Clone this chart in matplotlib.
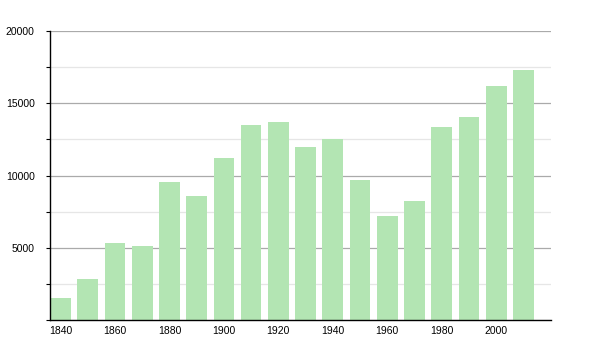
import matplotlib
matplotlib.use("Agg")
import matplotlib.pyplot as plt
from matplotlib.ticker import MultipleLocator

years = [1840, 1850, 1860, 1870, 1880, 1890, 1900, 1910, 1920, 1930,
         1940, 1950, 1960, 1970, 1980, 1990, 2000, 2010]
population = [1500, 2840, 5330, 5120, 9550, 8580, 11210, 13490, 13700, 11970,
              12520, 9690, 7200, 8230, 13350, 14050, 16190, 17300]
xtick_labels = [1840, 1860, 1880, 1900, 1920, 1940, 1960, 1980, 2000]
ytick_labels = [5000, 10000, 15000, 20000]

plt.rcParams['font.family'] = ['Liberation Sans', 'DejaVu Sans']

fig = plt.figure(figsize=(6, 3.5), dpi=100)
ax = fig.add_axes([50/600, 30/350, 501/600, 289/350])

ax.bar(years, population, width=7.6, color='#b3e5b3', edgecolor='none', zorder=2)

ax.set_xlim(1836.15, 2020.1)
ax.set_ylim(0, 20000)

ax.set_yticks(ytick_labels)
ax.set_yticklabels([str(v) for v in ytick_labels])
ax.yaxis.set_minor_locator(MultipleLocator(2500))
ax.set_xticks(xtick_labels)
ax.set_xticklabels([str(v) for v in xtick_labels])

ax.grid(axis='y', which='major', color='#aaaaaa', linewidth=0.9, zorder=1)
ax.grid(axis='y', which='minor', color='#e6e6e6', linewidth=0.9, zorder=1)

for s in ['top', 'right']:
    ax.spines[s].set_visible(False)
for s in ['left', 'bottom']:
    ax.spines[s].set_color('black')
    ax.spines[s].set_linewidth(1.0)

ax.tick_params(axis='y', which='major', length=3, width=0.8, pad=8, labelsize=7.5, colors='black')
ax.tick_params(axis='y', which='minor', length=3, width=0.8, colors='black')
ax.tick_params(axis='x', which='major', length=0, pad=4, labelsize=7.5, colors='black')

fig.savefig('out.png', dpi=100)
